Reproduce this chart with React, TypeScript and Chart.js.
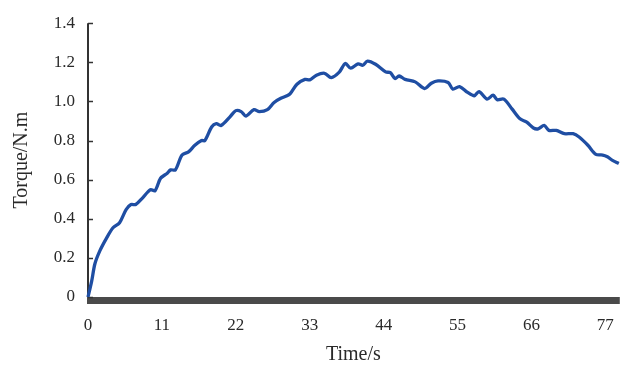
import React, { useEffect, useRef } from "react";
import { Chart, registerables } from "chart.js";

Chart.register(...registerables);

const times: number[] = [
  0, 0.54, 1.03, 1.76, 2.74, 3.72, 4.7, 5.67, 6.4, 7.1, 8.1, 9.3, 9.97, 10.8, 11.8, 12.3, 13.0,
  14.0, 14.96, 15.9, 16.9, 17.4, 18.4, 19.1, 19.8, 21.1, 22.0, 22.8, 23.5, 24.7, 25.5, 26.7,
  27.7, 28.7, 29.6, 30.1, 31.1, 32.3, 33.0, 34.0, 35.2, 36.2, 37.4, 38.3, 39.1, 40.2, 40.9,
  41.6, 42.8, 44.3, 45.0, 45.7, 46.3, 47.2, 48.7, 50.1, 51.1, 52.1, 53.6, 54.3, 55.3, 56.5,
  57.5, 58.2, 59.4, 60.3, 60.9, 61.9, 63.1, 64.3, 65.3, 66.3, 67.0, 67.9, 68.6, 69.7, 70.9,
  72.2, 73.1, 74.4, 75.6, 76.6, 77.3, 78.0, 79.0,
];

const torque: number[] = [
  0, 0.08, 0.17, 0.236, 0.3, 0.354, 0.38, 0.447, 0.473, 0.473, 0.506, 0.549, 0.543, 0.607, 0.633,
  0.65, 0.65, 0.726, 0.742, 0.776, 0.8, 0.8, 0.869, 0.886, 0.877, 0.92, 0.953, 0.948, 0.925,
  0.958, 0.948, 0.958, 0.995, 1.016, 1.029, 1.04, 1.088, 1.113, 1.11, 1.134, 1.144, 1.122, 1.15,
  1.194, 1.17, 1.192, 1.185, 1.206, 1.19, 1.151, 1.147, 1.117, 1.13, 1.113, 1.1, 1.066, 1.093,
  1.105, 1.097, 1.063, 1.076, 1.046, 1.029, 1.05, 1.012, 1.032, 1.009, 1.012, 0.962, 0.911,
  0.894, 0.864, 0.86, 0.877, 0.852, 0.852, 0.835, 0.835, 0.818, 0.776, 0.729, 0.726, 0.717,
  0.7, 0.683,
];

const xTicks: number[] = [0, 11, 22, 33, 44, 55, 66, 77];
const yTicks: number[] = [0, 0.2, 0.4, 0.6, 0.8, 1.0, 1.2, 1.4];

const xTitle = "Time/s";
const yTitle = "Torque/N.m";

const FONT = "'Liberation Serif', 'Times New Roman', serif";

const axisDecor = {
  id: "axisDecor",
  beforeDatasetsDraw(chart: any) {
    const { ctx, chartArea, scales } = chart;
    ctx.save();
    // thick bottom bar
    ctx.fillStyle = "#4a4a4a";
    ctx.fillRect(chartArea.left - 1, chartArea.bottom, chartArea.right - chartArea.left + 2, 7);
    // y axis line
    ctx.strokeStyle = "#333333";
    ctx.lineWidth = 2;
    ctx.beginPath();
    ctx.moveTo(chartArea.left, chartArea.top);
    ctx.lineTo(chartArea.left, chartArea.bottom);
    ctx.stroke();
    // inner ticks
    const y = scales.y;
    yTicks.forEach((v) => {
      const py = Math.round(y.getPixelForValue(v)) + 0.5;
      ctx.lineWidth = 1.5;
      ctx.beginPath();
      ctx.moveTo(chartArea.left, py);
      ctx.lineTo(chartArea.left + 5, py);
      ctx.stroke();
    });
    ctx.restore();
  },
};

export default function App() {
  const ref = useRef<HTMLCanvasElement | null>(null);
  useEffect(() => {
    if (!ref.current) return;
    const chart = new Chart(ref.current, {
      type: "line",
      data: {
        datasets: [
          {
            data: times.map((t, i) => ({ x: t, y: torque[i] })),
            borderColor: "#1f4ea3",
            borderWidth: 3.3,
            pointRadius: 0,
            tension: 0.3,
            fill: false,
            clip: false as any,
          },
        ],
      },
      options: {
        responsive: false,
        animation: false,
        layout: { padding: { left: 0, right: 6, top: 20, bottom: 0 } },
        plugins: { legend: { display: false }, tooltip: { enabled: false } },
        scales: {
          x: {
            type: "linear",
            min: 0,
            max: 79,
            afterFit: (s: any) => {
              s.height = 70;
            },
            afterBuildTicks: (s: any) => {
              s.ticks = xTicks.map((v) => ({ value: v }));
            },
            grid: { display: false, drawTicks: false },
            border: { display: false },
            ticks: {
              padding: 18,
              color: "#2a2a2a",
              font: { family: FONT, size: 17 },
              maxRotation: 0,
              autoSkip: false,
              callback: (v: any) => String(v),
            },
            title: {
              display: true,
              text: xTitle,
              color: "#2a2a2a",
              font: { family: FONT, size: 20 },
              padding: { top: 0, bottom: 0 },
            },
          },
          y: {
            type: "linear",
            min: 0,
            max: 1.4,
            afterFit: (s: any) => {
              s.width = 88;
            },
            afterBuildTicks: (s: any) => {
              s.ticks = yTicks.map((v) => ({ value: v }));
            },
            grid: { display: false, drawTicks: false },
            border: { display: false },
            ticks: {
              padding: 13,
              color: "#2a2a2a",
              font: { family: FONT, size: 17 },
              autoSkip: false,
              callback: (v: any) => (v === 0 ? "0" : Number(v).toFixed(1)),
            },
            title: {
              display: true,
              text: yTitle,
              color: "#2a2a2a",
              font: { family: FONT, size: 20 },
              padding: { top: 10, bottom: 0 },
            },
          },
        },
      },
      plugins: [axisDecor],
    });
    return () => chart.destroy();
  }, []);
  return (
    <div style={{ position: "fixed", left: 0, top: 0, width: 632, height: 367, background: "#fff" }}>
      <canvas ref={ref} width={632} height={367} style={{ display: "block" }} />
    </div>
  );
}
